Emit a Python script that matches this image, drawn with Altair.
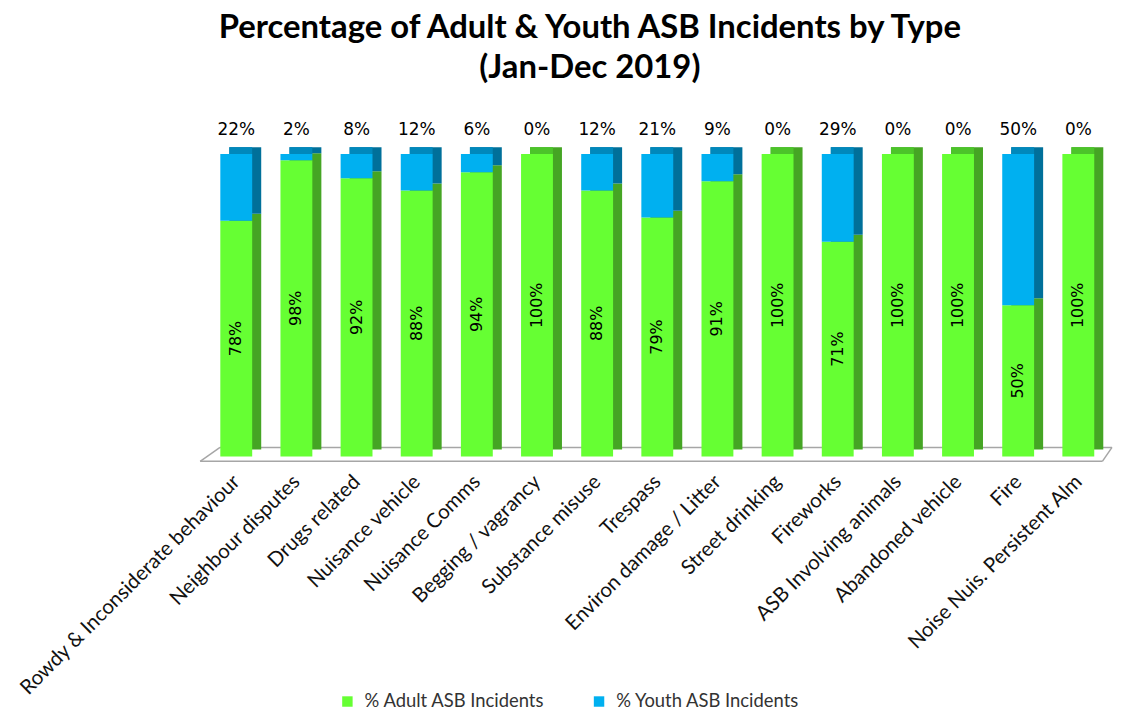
import altair as alt
import pandas as pd

categories = [
    "Rowdy & Inconsiderate behaviour", "Neighbour disputes", "Drugs related",
    "Nuisance vehicle", "Nuisance Comms", "Begging / vagrancy", "Substance misuse",
    "Trespass", "Environ damage  / Litter", "Street drinking", "Fireworks",
    "ASB Involving animals", "Abandoned vehicle", "Fire", "Noise Nuis. Persistent Alm",
]
adult_pct = [78, 98, 92, 88, 94, 100, 88, 79, 91, 100, 71, 100, 100, 50, 100]
youth_pct = [22, 2, 8, 12, 6, 0, 12, 21, 9, 0, 29, 0, 0, 50, 0]

series_names = ["% Adult ASB Incidents", "% Youth ASB Incidents"]
front_colors = ["#66FF33", "#00B0F0"]
side_colors = ["#45A524", "#00709A"]
top_colors = ["#4CC42A", "#0088BB"]

HW = 0.265   # half bar width (x units)
DX = 0.15    # depth, x units
DY = 2.3     # depth, y units

n = len(categories)
rows = []
for i, (c, a, y) in enumerate(zip(categories, adult_pct, youth_pct)):
    for s, (lo, hi) in enumerate([(0, a), (a, a + y)]):
        rows.append(dict(idx=i, cat=c, series=series_names[s], lo=lo, hi=hi,
                         val=hi - lo, side=side_colors[s]))
long_df = pd.DataFrame(rows)
long_df = long_df[long_df.val > 0]

bar_df = pd.DataFrame(dict(idx=list(range(n)), cat=categories, adult=adult_pct, youth=youth_pct))
bar_df["total"] = bar_df.adult + bar_df.youth
bar_df["topc"] = [top_colors[1] if y > 0 else top_colors[0] for y in youth_pct]
bar_df["alab"] = [f"{a}%" for a in adult_pct]
bar_df["ylab"] = [f"{y}%" for y in youth_pct]

xscale = alt.Scale(domain=[-0.62, n - 1 + 0.56], nice=False, zero=False)
yscale = alt.Scale(domain=[0, 100], nice=False)

label_expr = "[" + ",".join("'" + c.replace("'", "\\'") + "'" for c in categories) + "][datum.value]"

base_long = alt.Chart(long_df)
base_bar = alt.Chart(bar_df)

# floor (decorative)
floor_df = pd.DataFrame([
    dict(x=-0.60, y=-1.6, x2=n - 1 + 0.40, y2=-1.6),
    dict(x=-0.27, y=3.0, x2=n - 1 + 0.56, y2=3.0),
    dict(x=-0.60, y=-1.6, x2=-0.27, y2=3.0),
    dict(x=n - 1 + 0.40, y=-1.6, x2=n - 1 + 0.56, y2=3.0),
])
floor = alt.Chart(floor_df).mark_rule(color="#A6A6A6", strokeWidth=1.5).encode(
    x=alt.X("x:Q", scale=xscale,
            axis=alt.Axis(values=list(range(n)), labelExpr=label_expr, labelAngle=-45,
                          labelAlign="right", labelBaseline="middle", labelPadding=22,
                          labelFont="Lato", labelFontSize=20.5, labelColor="#111111",
                          ticks=False, domain=False, grid=False, title=None,
                          labelLimit=400, labelOverlap=False)),
    x2="x2:Q",
    y=alt.Y("y:Q", scale=yscale, axis=None),
    y2="y2:Q",
)

side = base_long.transform_calculate(
    xa=f"datum.idx - {HW} + {DX}", xb=f"datum.idx + {HW} + {DX}",
    ya=f"datum.lo + {DY}", yb=f"datum.hi + {DY}",
).mark_rect().encode(
    x=alt.X("xa:Q", scale=xscale), x2="xb:Q",
    y=alt.Y("ya:Q", scale=yscale), y2="yb:Q",
    color=alt.Color("side:N", scale=None),
)

top = base_bar.transform_calculate(
    xa=f"datum.idx - {HW} + {DX}", xb=f"datum.idx + {HW}",
    ya="datum.total", yb=f"datum.total + {DY}",
).mark_rect().encode(
    x=alt.X("xa:Q", scale=xscale), x2="xb:Q",
    y=alt.Y("ya:Q", scale=yscale), y2="yb:Q",
    color=alt.Color("topc:N", scale=None),
)

front = base_long.transform_calculate(
    xa=f"datum.idx - {HW}", xb=f"datum.idx + {HW}",
).mark_rect().encode(
    x=alt.X("xa:Q", scale=xscale), x2="xb:Q",
    y=alt.Y("lo:Q", scale=yscale), y2="hi:Q",
    color=alt.Color("series:N",
                    scale=alt.Scale(domain=series_names, range=front_colors),
                    legend=alt.Legend(orient="none", legendX=140, legendY=541,
                                      direction="horizontal", title=None,
                                      symbolType="square", symbolSize=110,
                                      symbolStrokeWidth=0, labelFont="Lato",
                                      labelFontSize=18.5, labelColor="#333333",
                                      labelLimit=400,
                                      columnPadding=45, labelOffset=8)),
)

adult_text = base_bar.transform_calculate(mid="datum.adult / 2").mark_text(
    angle=270, font="DejaVu Sans", fontSize=16, color="#000000", baseline="middle"
).encode(
    x=alt.X("idx:Q", scale=xscale),
    y=alt.Y("mid:Q", scale=yscale),
    text="alab:N",
)

youth_text = base_bar.transform_calculate(py="108").mark_text(
    font="DejaVu Sans", fontSize=17, color="#000000", baseline="middle"
).encode(
    x=alt.X("idx:Q", scale=xscale),
    y=alt.Y("py:Q", scale=yscale),
    text="ylab:N",
)

chart = alt.layer(floor, side, top, front, adult_text, youth_text).properties(
    width=918,
    height=304,
    padding={"left": 192, "top": 145, "right": 1, "bottom": 254},
    autosize=alt.AutoSizeParams(type="none"),
    title=alt.TitleParams(
        "Percentage of Adult & Youth ASB Incidents by Type",
        subtitle="(Jan-Dec 2019)",
        font="Lato", fontSize=33, fontWeight="bold", color="#000000",
        subtitleFont="Lato", subtitleFontSize=33, subtitleFontWeight="bold",
        subtitleColor="#000000", subtitlePadding=7,
        dx=-66, offset=36, anchor="middle",
    ),
).configure_view(stroke=None)

chart.save("out.html", embed_options={"renderer": "svg", "actions": False})
